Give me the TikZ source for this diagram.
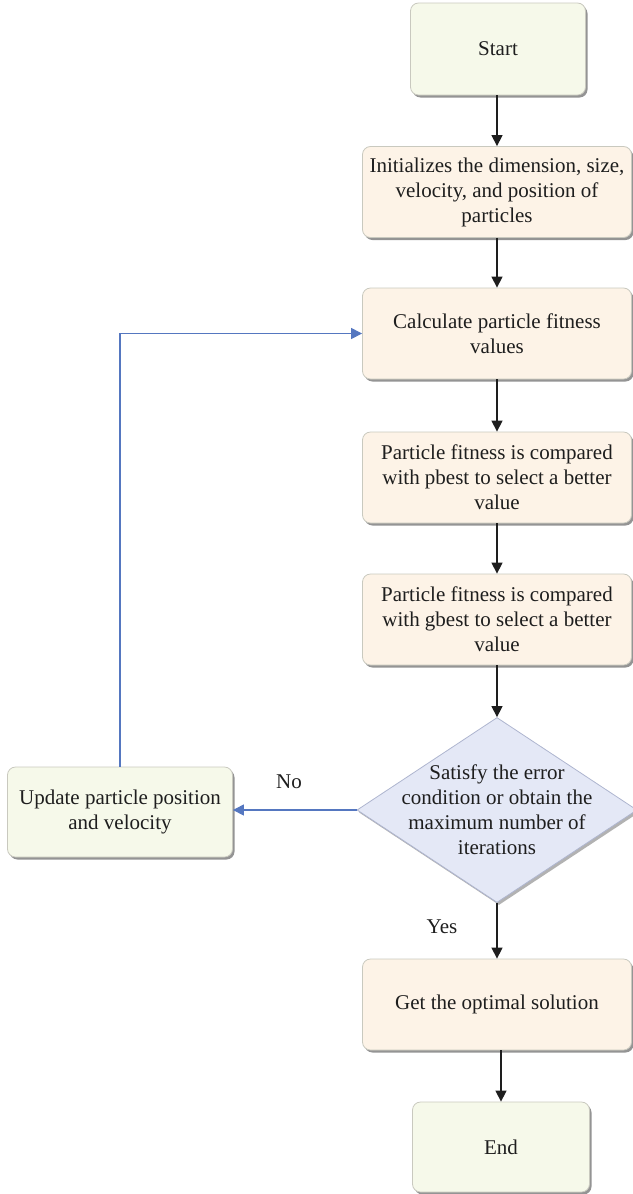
\documentclass[tikz,border=0pt]{standalone}
\usepackage{fontspec}
\setmainfont{Liberation Serif}
\usetikzlibrary{arrows.meta,shapes.geometric,shadows}

\definecolor{termfill}{HTML}{F6F9EA}
\definecolor{procfill}{HTML}{FDF3E7}
\definecolor{decfill}{HTML}{E4E8F6}
\definecolor{boxedge}{HTML}{C9C9BF}
\definecolor{decedge}{HTML}{AEB5CF}
\definecolor{loopblue}{HTML}{5577C0}
\definecolor{ink}{HTML}{1E1E1E}

\tikzset{
  every node/.style={font=\fontsize{21}{25}\selectfont, text=ink},
  boxbase/.style={rectangle, rounded corners=8pt, draw=boxedge, line width=0.8pt,
    align=center, inner sep=0pt,
    drop shadow={shadow xshift=2pt, shadow yshift=-2.5pt, opacity=0.6, fill=black!70}},
  terminal/.style={boxbase, fill=termfill},
  process/.style={boxbase, fill=procfill, minimum width=269pt, minimum height=91pt},
  decision/.style={diamond, draw=decedge, line width=0.8pt, fill=decfill,
    minimum width=280pt, minimum height=185pt, inner sep=0pt,
    drop shadow={shadow xshift=2pt, shadow yshift=-2.5pt, opacity=0.5, fill=black!60}},
  flow/.style={draw=ink, line width=1.3pt, -{Triangle[length=11pt,width=11pt]}},
  loopflow/.style={draw=loopblue, line width=1.1pt, -{Triangle[length=11pt,width=11pt]}},
  tag/.style={inner sep=0pt}
}

\begin{document}
\begin{tikzpicture}[x=1pt, y=-1pt]
  \useasboundingbox (0,0) rectangle (632,1194);

  % main column
  \node[terminal, minimum width=175pt, minimum height=92pt] (start) at (498,49) {Start};
  \node[process] (init) at (497,192)
    {Initializes the dimension, size,\\velocity, and position of\\particles};
  \node[process] (calc) at (497,333.5)
    {Calculate particle fitness\\values};
  \node[process] (pbest) at (497,477.5)
    {Particle fitness is compared\\with pbest to select a better\\value};
  \node[process] (gbest) at (497,619.5)
    {Particle fitness is compared\\with gbest to select a better\\value};
  \node[decision] (dec) at (497,810) {};
  \node[align=center, inner sep=0pt] (dectext) at (dec.center)
    {Satisfy the error\\condition or obtain the\\maximum number of\\iterations};
  \node[process] (opt) at (497,1004.5) {Get the optimal solution};
  \node[terminal, minimum width=177pt, minimum height=90pt] (end) at (501,1147) {End};

  % side branch
  \node[terminal, minimum width=225pt, minimum height=90pt] (update) at (120,812)
    {Update particle position\\and velocity};

  % labels
  \node[tag] (nolabel) at (289,782) {No};
  \node[tag] (yeslabel) at (442,927) {Yes};

  % connectors
  \draw[flow] (start.south -| init.north) -- (init.north);
  \draw[flow] (init) -- (calc);
  \draw[flow] (calc) -- (pbest);
  \draw[flow] (pbest) -- (gbest);
  \draw[flow] (gbest) -- (dec.north);
  \draw[flow] (dec.south) -- (opt);
  \draw[flow] (opt.south -| end.north) -- (end.north);
  \draw[loopflow] (dec.west) -- (dec.west -| update.east);
  \draw[loopflow] (update.north) |- (calc.west);
\end{tikzpicture}
\end{document}
